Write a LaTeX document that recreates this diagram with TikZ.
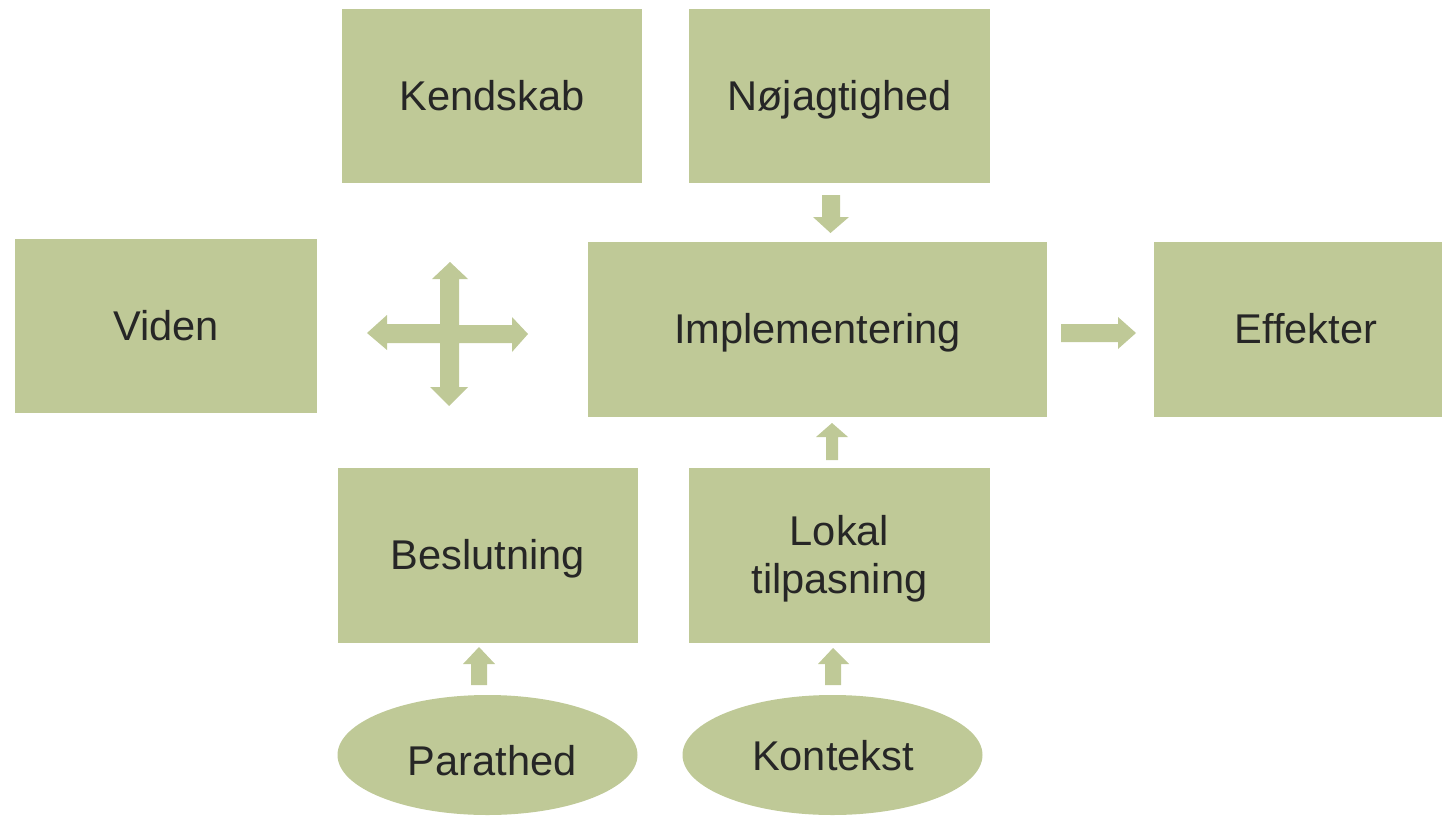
\documentclass[tikz,border=0pt]{standalone}
\usepackage{fontspec}
\setmainfont{Liberation Sans}
\definecolor{boxgreen}{RGB}{191,201,151}
\definecolor{txt}{RGB}{38,38,38}
\begin{document}
\begin{tikzpicture}[x=1pt,y=-1pt,
  box/.style={rectangle,fill=boxgreen,inner sep=0pt,text=txt,align=center,
    text height=37.6pt,text depth=8.8pt,
    font=\fontsize{41.6}{48}\selectfont},
  lbl/.style={text=txt,inner sep=0pt,text height=37.6pt,text depth=8.8pt,
    font=\fontsize{41.6}{48}\selectfont},
  barrow/.style={fill=boxgreen}]
\useasboundingbox (0,0) rectangle (1442,816);
% boxes
\node[box,minimum width=300pt,minimum height=174pt] (kend) at (492,96) {Kendskab};
\node[box,minimum width=301pt,minimum height=174pt] (noj) at (839.5,96) {Nøjagtighed};
\node[box,minimum width=302pt,minimum height=174pt] (viden) at (166,326) {Viden};
\node[box,minimum width=459pt,minimum height=175pt] (impl) at (817.5,329.5) {Implementering};
\node[rectangle,fill=boxgreen,minimum width=288pt,minimum height=175pt] (eff) at (1298,329.5) {};
\node[lbl] (efftxt) at (1306,329.5) {Effekter};
\node[box,minimum width=300pt,minimum height=175pt] (besl) at (488,555.5) {Beslutning};
\node[rectangle,fill=boxgreen,minimum width=301pt,minimum height=175pt] (lokal) at (839.5,555.5) {};
\node[text=txt,align=center,font=\fontsize{41.6}{48}\selectfont] (lokaltxt) at (839.5,559) {Lokal\\tilpasning};
% ellipses
\fill[boxgreen] (487.5,755) ellipse [x radius=150, y radius=60];
\node[lbl] (para) at (492,761) {Parathed};
\fill[boxgreen] (832.5,755) ellipse [x radius=150, y radius=60];
\node[lbl] (kont) at (833,756) {Kontekst};
% block arrows
% down into Implementering
\fill[barrow] (822,195) -- (840,195) -- (840,217) -- (849,217) -- (830.5,233) -- (813,217) -- (822,217) -- cycle;
% up into Implementering
\fill[barrow] (826,460) -- (838,460) -- (838,437) -- (848,437) -- (832,423) -- (816,437) -- (826,437) -- cycle;
% right to Effekter
\fill[barrow] (1061,324) -- (1118,324) -- (1118,317) -- (1136,333) -- (1118,349) -- (1118,342) -- (1061,342) -- cycle;
% up into Beslutning
\fill[barrow] (471,685) -- (487,685) -- (487,664) -- (495,664) -- (479,647) -- (463,664) -- (471,664) -- cycle;
% up into Lokal tilpasning
\fill[barrow] (825,685) -- (841,685) -- (841,664) -- (849,664) -- (833,648) -- (818,664) -- (825,664) -- cycle;
% four-way cross
\fill[barrow] (440,279) -- (432,279) -- (450,262) -- (468,279) -- (459,279)
  -- (459,325) -- (512,325) -- (512,317) -- (528,334) -- (512,352) -- (512,343)
  -- (459,343) -- (459,387) -- (468,387) -- (449,406) -- (430,387) -- (440,387)
  -- (440,343) -- (387,343) -- (387,350) -- (367,333) -- (387,315) -- (387,324)
  -- (440,324) -- cycle;
\end{tikzpicture}
\end{document}
